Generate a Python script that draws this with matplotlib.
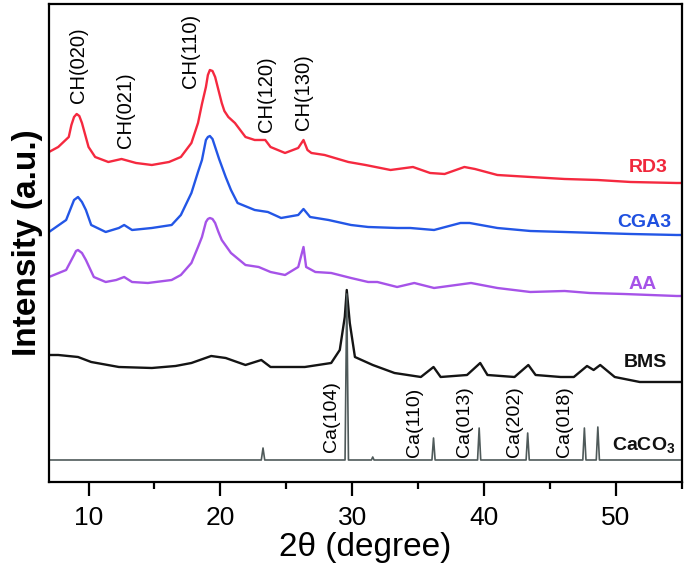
import matplotlib
matplotlib.use("Agg")
import matplotlib.pyplot as plt
from matplotlib.ticker import MultipleLocator

plt.rcParams['font.family'] = ['Liberation Sans', 'DejaVu Sans']
plt.rcParams['mathtext.fontset'] = 'custom'
plt.rcParams['mathtext.rm'] = 'Liberation Sans'
plt.rcParams['mathtext.bf'] = 'Liberation Sans:bold'
plt.rcParams['mathtext.default'] = 'regular'

# RD3
rd3_x = [7.0, 7.7, 8.5, 8.7, 8.9, 9.1, 9.3, 9.5, 9.75, 10.0, 10.5, 11.5, 12.5, 13.6,
         14.8, 16.1, 17.0, 17.8, 18.3, 18.6, 18.9, 19.05, 19.2, 19.4, 19.6, 19.85,
         20.1, 20.3, 20.6, 21.1, 21.5, 21.9, 22.6, 23.4, 23.8, 24.9, 25.9, 26.3, 26.6,
         26.9, 27.9, 29.7, 31.0, 32.9, 34.6, 35.9, 37.0, 38.5, 39.3, 41.0, 43.5, 46.1,
         48.6, 51.1, 54.6, 55.0]
rd3_y = [330, 335, 345, 357, 365, 368, 366, 359, 347, 335, 325, 320, 323, 319,
         317, 320, 325, 339, 359, 378, 395, 407, 412, 411, 405, 392,
         379, 371, 365, 359, 352, 345, 342, 342, 335, 329, 334, 342, 332,
         329, 327, 320, 317, 312, 315, 309, 308, 315, 313, 307, 305, 303,
         302, 300, 299, 299]

# CGA3
cga3_x = [7.0, 8.3, 8.6, 8.9, 9.2, 9.5, 9.8, 10.2, 11.3, 12.3, 12.7, 13.3, 14.8,
          16.3, 17.0, 17.8, 18.3, 18.6, 18.9, 19.05, 19.2, 19.4, 19.6, 19.9, 20.4,
          20.8, 21.3, 22.6, 23.6, 24.6, 25.9, 26.3, 26.8, 28.2, 29.9, 31.2, 33.4,
          34.4, 36.2, 38.2, 38.9, 41.0, 43.5, 46.1, 48.6, 51.1, 54.6, 55.0]
cga3_y = [250, 262, 272, 282, 285, 280, 272, 257, 250, 254, 257, 252, 254,
          257, 267, 289, 310, 322, 342, 345, 346, 343, 335, 323, 305,
          292, 279, 272, 270, 264, 267, 273, 265, 262, 257, 255, 254,
          254, 252, 259, 259, 254, 251, 250, 249, 248, 247, 247]

# AA
aa_x = [7.0, 8.3, 8.9, 9.05, 9.2, 9.5, 9.8, 10.4, 11.3, 12.1, 12.7, 13.3, 14.5,
        16.3, 17.0, 17.8, 18.3, 18.6, 18.9, 19.05, 19.2, 19.4, 19.6, 19.85, 20.1,
        20.8, 21.9, 22.9, 23.8, 24.9, 25.9, 26.3, 26.5, 27.2, 28.4, 29.9, 31.2,
        31.9, 33.4, 34.7, 36.2, 39.0, 41.0, 43.5, 46.1, 48.0, 50.6, 54.6, 55.0]
aa_y = [205, 212, 227, 231, 232, 229, 222, 205, 200, 202, 205, 200, 199,
        202, 207, 219, 235, 245, 260, 263, 264, 263, 259, 250, 242,
        229, 217, 215, 210, 207, 215, 235, 215, 210, 209, 204, 200,
        200, 195, 199, 194, 199, 194, 190, 191, 189, 188, 186, 186]

# BMS
bms_x = [7.0, 7.7, 9.2, 10.2, 12.3, 14.8, 16.6, 17.8, 19.3, 20.4, 21.9, 23.1, 23.8,
         26.4, 28.4, 29.05, 29.43, 29.58, 29.81, 30.2, 31.55, 33.2, 35.2, 36.16, 36.7,
         38.7, 39.7, 40.25, 42.3, 43.35, 43.9, 45.8, 46.8, 47.8, 48.3, 48.8, 49.9,
         51.8, 55.0]
bms_y = [127, 127, 125, 120, 115, 114, 116, 119, 126, 124, 117, 122, 115,
         115, 119, 132, 165, 192, 159, 125, 117, 109, 105, 115, 105,
         107, 119, 107, 105, 117, 107, 105, 105, 116, 112, 117, 105,
         100, 100]

# CaCO3 reference
caco3_x = [7.0, 23.1, 23.23, 23.36, 29.45, 29.58, 29.71, 31.45, 31.55, 31.65,
           36.04, 36.16, 36.28, 39.5, 39.62, 39.74, 43.18, 43.3, 43.42,
           47.48, 47.6, 47.72, 48.5, 48.62, 48.74, 55.0]
caco3_y = [22, 22, 34, 22, 22, 188, 22, 22, 25, 22,
           22, 44, 22, 22, 54, 22, 22, 49, 22,
           22, 54, 22, 22, 55, 22, 22]

ch_labels = ['CH(020)', 'CH(021)', 'CH(110)', 'CH(120)', 'CH(130)']
ch_pos = [9.24, 12.8, 17.7, 23.5, 26.3]
ch_base = [379, 334, 394, 350, 352]

ca_labels = ['Ca(104)', 'Ca(110)', 'Ca(013)', 'Ca(202)', 'Ca(018)']
ca_pos = [28.4, 34.7, 38.5, 42.3, 46.1]
ca_base = [30, 25, 25, 25, 25]

fig = plt.figure(figsize=(6.89, 5.78), dpi=100)
ax = fig.add_axes([0.0711, 0.1661, 0.9187, 0.827])

ax.plot(rd3_x, rd3_y, color='#f5293f', lw=1.7)
ax.plot(cga3_x, cga3_y, color='#2356e6', lw=1.7)
ax.plot(aa_x, aa_y, color='#a653e8', lw=1.7)
ax.plot(bms_x, bms_y, color='#141414', lw=1.7)
ax.plot(caco3_x, caco3_y, color='#4f5a5a', lw=1.2)

for lab, px, py in zip(ch_labels, ch_pos, ch_base):
    ax.text(px, py, lab, rotation=90, ha='center', va='bottom', fontsize=14.5)
for lab, px, py in zip(ca_labels, ca_pos, ca_base):
    ax.text(px, py, lab, rotation=90, ha='center', va='bottom', fontsize=14)

ax.text(53.9, 314, 'RD3', color='#f0283c', ha='right', va='center',
        fontsize=14, fontweight='bold')
ax.text(54.2, 259, 'CGA3', color='#1f50e0', ha='right', va='center',
        fontsize=14, fontweight='bold')
ax.text(53.1, 197, 'AA', color='#a653e8', ha='right', va='center',
        fontsize=14, fontweight='bold')
ax.text(53.9, 119, 'BMS', color='#111111', ha='right', va='center',
        fontsize=14, fontweight='bold')
ax.text(54.5, 37, 'CaCO$_3$', color='#111111', ha='right', va='center',
        fontsize=14, fontweight='bold')

ax.set_xlim(7, 55)
ax.set_ylim(0, 478)
ax.xaxis.set_major_locator(MultipleLocator(10))
ax.xaxis.set_minor_locator(MultipleLocator(5))
ax.set_yticks([])
ax.tick_params(axis='x', which='major', direction='out', length=10, width=1.6,
               labelsize=19, pad=7)
ax.tick_params(axis='x', which='minor', direction='out', length=5, width=1.6)
for sp in ax.spines.values():
    sp.set_linewidth(1.6)

ax.set_xlabel('2θ (degree)', fontsize=24, labelpad=2)
ax.set_ylabel('Intensity (a.u.)', fontsize=24, fontweight='bold', labelpad=4)

fig.savefig('out.png', dpi=100)
